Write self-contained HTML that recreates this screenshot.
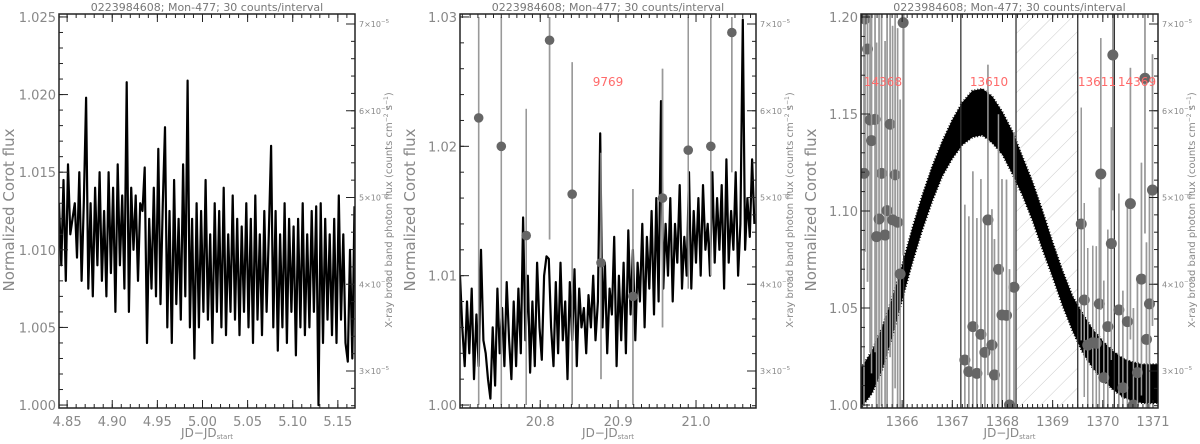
<!DOCTYPE html>
<html><head><meta charset="utf-8">
<style>
html,body{margin:0;padding:0;background:#fff;overflow:hidden;}
svg{display:block;font-family:"DejaVu Sans","Liberation Sans",sans-serif;}
</style></head>
<body>
<svg id="chart" width="1200" height="444" viewBox="0 0 1200 444" xmlns="http://www.w3.org/2000/svg">
<defs>
<pattern id="hatch" patternUnits="userSpaceOnUse" width="14" height="14" patternTransform="rotate(45)">
<line x1="0" y1="0" x2="0" y2="14" stroke="#ccc" stroke-width="1"/>
</pattern>
</defs>
</svg>
<script>
// ---------- Panel 1 data ----------
const p1Start = 4.841, p1Step = 0.0025;
const p1Flux = [13,9,14.5,8,15.5,11,12,13,9.5,15,8,13,
19.8,7.5,13,7,14,9,15,8,12.5,7,15,8.5,
14,6,15.5,9,13.5,7.5,20.8,6,14,10,13.5,8,
13,12.5,15.3,4,12,7.5,14,7,16.5,6.5,13,17.9,
5,12.5,4,14.5,6.5,12,5.5,15.5,7,20.9,5,12,
3,13,5,12.5,6,14.5,5.5,11,4,13,6,12.5,
5,14,4.5,11,6,13.5,5.5,12,4.5,11.5,6,13,
5,12,4,13.5,5.5,11,4.5,12.5,6,11,16.7,5,
12.5,3.5,11,5,13,4,12,6,11.5,3.2,12,5,
13,4.5,11,5,12.5,6,12.8,0,13,4,12,5.5,
11,4.5,12,4,13.5,5.5,11,4,2.8,10,3,12.8];
const p1XTicks = [4.85,4.90,4.95,5.00,5.05,5.10,5.15];
const p1YTicks = [1.000,1.005,1.010,1.015,1.020,1.025];

// ---------- Panel 2 data ----------
const p2Start = 20.697, p2Step = 0.003;
const p2Flux = [10,6,3,8,4,9,2,7,3,12,5,4,
2,0.5,6,1.5,9,4,7.5,3,9.5,5,2,8,
3,9,4,14.5,5,10,2.5,8,3,11,6,3.5,
10,11.5,11.3,6,3,9.5,4,11,5,8,2,9.5,
5,10.5,3,9,6,7.5,4,8.5,6,10,5,8,
21,6,11,4,9,7,13,3,10,5,11,4,
13.5,7,12,5,11,8,14,6,13,9,15,7,
16,8,23.5,9,14,10,16,8,14,11,17,9,
13,10,18,9,15,11,16,10,17,12,14,10,
18,11,16,12,17,9,19,11,15,12,18,10,
14,29.8,12,16,13,19,14];
const p2XrT = [20.721,20.750,20.782,20.812,20.841,20.878,20.919,20.957,20.990,21.019,21.046];
const p2XrF = [1.0222,1.0200,1.0131,1.0282,1.0163,1.0110,1.0084,1.0160,1.0197,1.0200,1.0288];
const p2XrHi = [1.030,1.030,1.0229,1.030,1.0265,1.0195,1.0167,1.0260,1.030,1.030,1.030];
const p2XrLo = [1.000,1.000,1.000,1.0128,1.000,1.0020,1.000,1.0060,1.0090,1.0100,1.0180];
const p2XTicks = [20.8,20.9,21.0];
const p2YTicks = [1.00,1.01,1.02,1.03];

// ---------- Panel 3 data ----------
const p3CurveT = [1365.18,1365.4,1365.6,1365.8,1366.0,1366.2,1366.4,1366.6,1366.8,1367.0,1367.2,1367.4,1367.6,1367.8,1368.0,1368.2,1368.4,1368.6,1368.8,1369.0,1369.2,1369.4,1369.6,1369.8,1370.0,1370.2,1370.4,1370.6,1370.8,1371.1];
const p3CurveF = [1.008,1.017,1.029,1.045,1.063,1.082,1.099,1.114,1.127,1.137,1.145,1.150,1.151,1.147,1.140,1.130,1.118,1.105,1.090,1.075,1.060,1.047,1.037,1.029,1.023,1.018,1.014,1.012,1.011,1.011];
const p3CurveW = [0.011,0.011,0.011,0.010,0.009,0.009,0.009,0.009,0.009,0.010,0.011,0.012,0.012,0.012,0.011,0.011,0.010,0.010,0.010,0.009,0.009,0.009,0.010,0.010,0.010,0.010,0.010,0.010,0.010,0.010];
const p3XrT = [1365.26,1365.31,1365.36,1365.46,1365.39,1365.24,1365.59,1365.70,1365.54,1365.49,1365.66,1365.76,1365.86,1365.81,1365.91,1365.96,1366.02,
1367.25,1367.33,1367.41,1367.49,1367.57,1367.65,1367.71,1367.79,1367.84,1367.92,1367.99,1368.08,1368.23,1368.14,
1369.57,1369.63,1369.70,1369.80,1369.87,1369.93,1369.96,1370.02,1370.10,1370.17,1370.20,1370.32,1370.40,1370.49,1370.55,1370.61,1370.69,1370.77,1370.84,1370.87,1370.93,1370.99];
const p3XrF = [1.199,1.1835,1.1469,1.1472,1.1363,1.1194,1.1194,1.1002,1.0959,1.0868,1.0876,1.1447,1.1186,1.0954,1.0942,1.0675,1.1971,
1.0232,1.0172,1.0404,1.0163,1.0364,1.0271,1.0954,1.0309,1.0155,1.0699,1.0464,1.0462,1.0607,1.0000,
1.0933,1.0541,1.0309,1.0321,1.0318,1.0521,1.1191,1.0141,1.0404,1.0832,1.1804,1.0490,1.0089,1.0430,1.1038,1.0000,1.0167,1.0649,1.1684,1.0338,1.0521,1.1108];
const p3XrE = [0.12,0.12,0.12,0.12,0.12,0.12,0.12,0.11,0.11,0.1,0.1,0.12,0.11,0.1,0.1,0.09,0.12,
0.08,0.08,0.08,0.08,0.08,0.07,0.08,0.07,0.07,0.08,0.07,0.07,0.08,0.07,
0.06,0.05,0.05,0.05,0.05,0.06,0.07,0.05,0.05,0.06,0.08,0.06,0.05,0.06,0.07,0.05,0.05,0.06,0.08,0.05,0.06,0.07];
const p3Dividers = [1366.03,1367.17,1368.27,1369.5,1370.23];
const p3HatchRange = [1368.27,1369.5];
const p3XTicks = [1366,1367,1368,1369,1370,1371];
const p3YTicks = [1.00,1.05,1.10,1.15,1.20];

const rightTicks = [3,4,5,6,7];
const titleText = "0223984608; Mon-477; 30 counts/interval";

const svg = document.getElementById('chart');
const NS = 'http://www.w3.org/2000/svg';
function mk(tag, attrs){const e=document.createElementNS(NS,tag);for(const k in attrs)e.setAttribute(k,attrs[k]);return e;}

const TOP=14, BOT=408;
const cl = y => Math.max(TOP, Math.min(BOT, y));
function panel(cfg){
  const g = mk('g',{});
  
  
  svg.appendChild(g);
  const xs = t => cfg.x0 + (t-cfg.tmin)/(cfg.tmax-cfg.tmin)*(cfg.x1-cfg.x0);
  const ys = f => BOT - (f-cfg.ymin)/(cfg.ymax-cfg.ymin)*(BOT-TOP);
  const yr = v => 24 + (7 - v)*86.75;
  const clip = mk('clipPath',{id:'clip'+cfg.id});
  clip.appendChild(mk('rect',{x:cfg.x0,y:TOP,width:cfg.x1-cfg.x0,height:BOT-TOP}));
  svg.appendChild(clip);
  const pg = mk('g',{'clip-path':'url(#clip'+cfg.id+')'});
  
  
  g.appendChild(pg);
  cfg.draw(pg, xs, ys);
  const fr = mk('rect',{x:cfg.x0,y:TOP,width:cfg.x1-cfg.x0,height:BOT-TOP,fill:'none',stroke:'#222','stroke-width':1.5});
  
  
  g.appendChild(fr);
  for(let t=cfg.xminStart; t<=cfg.tmax+1e-9; t+=cfg.xminor){
    const x=xs(t); if(x<cfg.x0||x>cfg.x1) continue;
    g.appendChild(mk('line',{x1:x,x2:x,y1:BOT,y2:BOT-4,stroke:'#222','stroke-width':1}));
    g.appendChild(mk('line',{x1:x,x2:x,y1:TOP,y2:TOP+4,stroke:'#222','stroke-width':1}));
  }
  cfg.xticks.forEach(t=>{
    const x=xs(t);
    g.appendChild(mk('line',{x1:x,x2:x,y1:BOT,y2:BOT-8,stroke:'#222','stroke-width':1}));
    g.appendChild(mk('line',{x1:x,x2:x,y1:TOP,y2:TOP+8,stroke:'#222','stroke-width':1}));
    const tx=mk('text',{x:x,y:426,'text-anchor':'middle','font-size':13,fill:'#888'});
    tx.textContent=t.toFixed(cfg.xdec);
    
    
    g.appendChild(tx);
  });
  for(let f=cfg.ymin0; f<=cfg.ymax+1e-9; f+=cfg.yminor){
    const y=ys(f); if(y<TOP||y>BOT) continue;
    g.appendChild(mk('line',{x1:cfg.x0,x2:cfg.x0+4,y1:y,y2:y,stroke:'#222','stroke-width':1}));
  }
  cfg.yticks.forEach(f=>{
    const y=ys(f);
    g.appendChild(mk('line',{x1:cfg.x0,x2:cfg.x0+9,y1:y,y2:y,stroke:'#222','stroke-width':1}));
    const tx=mk('text',{x:cfg.x0-3,y:y+5,'text-anchor':'end','font-size':13,fill:'#888'});
    tx.textContent=f.toFixed(cfg.ydec);
    
    
    g.appendChild(tx);
  });
  for(let v=2.6; v<=7.08; v+=0.2){
    const y=yr(v);
    g.appendChild(mk('line',{x1:cfg.x1,x2:cfg.x1-4,y1:y,y2:y,stroke:'#222','stroke-width':1}));
  }
  rightTicks.forEach(v=>{
    const y=yr(v);
    g.appendChild(mk('line',{x1:cfg.x1,x2:cfg.x1-9,y1:y,y2:y,stroke:'#222','stroke-width':1}));
    const tx=mk('text',{x:cfg.x1+4,y:y+3,'font-size':8,fill:'#888'});
    tx.innerHTML=v+'×10<tspan dy="-4" font-size="5.5">−5</tspan>';
    
    
    g.appendChild(tx);
  });
  const cx=(cfg.x0+cfg.x1)/2;
  const tt=mk('text',{x:cx,y:11,'text-anchor':'middle','font-size':11,fill:'#777'});
  tt.textContent=titleText;
  
  
  g.appendChild(tt);
  const xl=mk('text',{x:cx,y:437,'text-anchor':'middle','font-size':12,fill:'#888'});
  xl.innerHTML='JD−JD<tspan dy="2" font-size="7">start</tspan>';
  
  
  g.appendChild(xl);
  const yl=mk('text',{x:0,y:0,'text-anchor':'middle','font-size':15,fill:'#888',transform:'translate('+(cfg.x0-45)+',210) rotate(-90)'});
  yl.textContent='Normalized Corot flux';
  
  
  g.appendChild(yl);
  const rl=mk('text',{x:0,y:0,'text-anchor':'middle','font-size':10,fill:'#888',transform:'translate('+(cfg.x1+37)+',210) rotate(-90)'});
  rl.innerHTML='X-ray broad band photon flux (counts cm<tspan dy="-4" font-size="6">−2</tspan><tspan dy="4"> s</tspan><tspan dy="-4" font-size="6">−1</tspan><tspan dy="4">)</tspan>';
  
  
  g.appendChild(rl);
  return g;
}
function label(g,x,y,txt){
  const t=mk('text',{x:x,y:y,'text-anchor':'middle','font-size':12,fill:'#ff6a6a'});
  t.textContent=txt;
  
  
  g.appendChild(t);
}
function lineFrom(pg,start,step,vals,xs,ys){
  const pts=vals.map((v,i)=>xs(start+i*step).toFixed(1)+','+cl(ys(1+v/1000)).toFixed(1)).join(' ');
  const pl=mk('polyline',{points:pts,fill:'none',stroke:'#000','stroke-width':2.2,'stroke-linejoin':'round'});
  
  
  pg.appendChild(pl);
}
function xr(pg,x,y,ylo,yhi,r){
  const l=mk('line',{x1:x,x2:x,y1:cl(ylo),y2:cl(yhi),stroke:'#999','stroke-width':1.5});
  
  
  pg.appendChild(l);
  const c=mk('circle',{cx:x,cy:cl(y),r:r,fill:'#666'});
  
  
  pg.appendChild(c);
}

panel({id:1,name:'panel-1',x0:59,x1:355,tmin:4.841,tmax:5.169,ymin:0.99981,ymax:1.02519,
  xticks:p1XTicks,xdec:2,xminor:0.01,xminStart:4.85,yticks:p1YTicks,ydec:3,yminor:0.001,ymin0:1.0,
  draw:(pg,xs,ys)=>{lineFrom(pg,p1Start,p1Step,p1Flux,xs,ys);}});

const g2=panel({id:2,name:'panel-2',x0:460,x1:756,tmin:20.697,tmax:21.077,ymin:0.99977,ymax:1.03023,
  xticks:p2XTicks,xdec:1,xminor:0.01,xminStart:20.70,yticks:p2YTicks,ydec:2,yminor:0.002,ymin0:1.0,
  draw:(pg,xs,ys)=>{
    p2XrT.forEach((t,i)=>{pg.appendChild(mk('line',{x1:xs(t),x2:xs(t),y1:cl(ys(p2XrLo[i])),y2:cl(ys(p2XrHi[i])),stroke:'#999','stroke-width':1.5}));});
    lineFrom(pg,p2Start,p2Step,p2Flux,xs,ys);
    p2XrT.forEach((t,i)=>xr(pg,xs(t),ys(p2XrF[i]),ys(p2XrLo[i]),ys(p2XrHi[i]),4.8));
  }});
label(g2,608,86,'9769');

const g3=panel({id:3,name:'panel-3',x0:861,x1:1158,tmin:1365.18,tmax:1371.1,ymin:0.99845,ymax:1.20155,
  xticks:p3XTicks,xdec:0,xminor:0.1,xminStart:1365.2,yticks:p3YTicks,ydec:2,yminor:0.01,ymin0:1.0,
  draw:(pg,xs,ys)=>{
    const ha=xs(p3HatchRange[0]), hb=xs(p3HatchRange[1]);
    const hr=mk('rect',{x:ha,y:TOP,width:hb-ha,height:BOT-TOP,fill:'url(#hatch)'});
    
    
    pg.appendChild(hr);
    p3XrT.forEach((t,i)=>{pg.appendChild(mk('line',{x1:xs(t),x2:xs(t),y1:cl(ys(p3XrF[i]-p3XrE[i])),y2:cl(ys(p3XrF[i]+p3XrE[i])),stroke:'#999','stroke-width':1.5}));});
    const up=p3CurveT.map((t,i)=>xs(t).toFixed(1)+','+ys(p3CurveF[i]+p3CurveW[i]).toFixed(1));
    const dn=p3CurveT.map((t,i)=>xs(t).toFixed(1)+','+cl(ys(p3CurveF[i]-p3CurveW[i])).toFixed(1)).reverse();
    const band=mk('polygon',{points:up.concat(dn).join(' '),fill:'#000',stroke:'#000','stroke-width':2,'stroke-dasharray':'1 2'});
    
    
    pg.appendChild(band);
    p3Dividers.forEach(t=>{
      const l=mk('line',{x1:xs(t),x2:xs(t),y1:TOP,y2:BOT,stroke:'#333','stroke-width':1.3});
      
      
      pg.appendChild(l);
    });
    p3XrT.forEach((t,i)=>xr(pg,xs(t),ys(p3XrF[i]),ys(p3XrF[i]-p3XrE[i]),ys(p3XrF[i]+p3XrE[i]),5.5));
  }});
label(g3,883,86,'14368');
label(g3,989,86,'13610');
label(g3,1097,86,'13611');
label(g3,1137,86,'14369');
</script>
</body></html>
